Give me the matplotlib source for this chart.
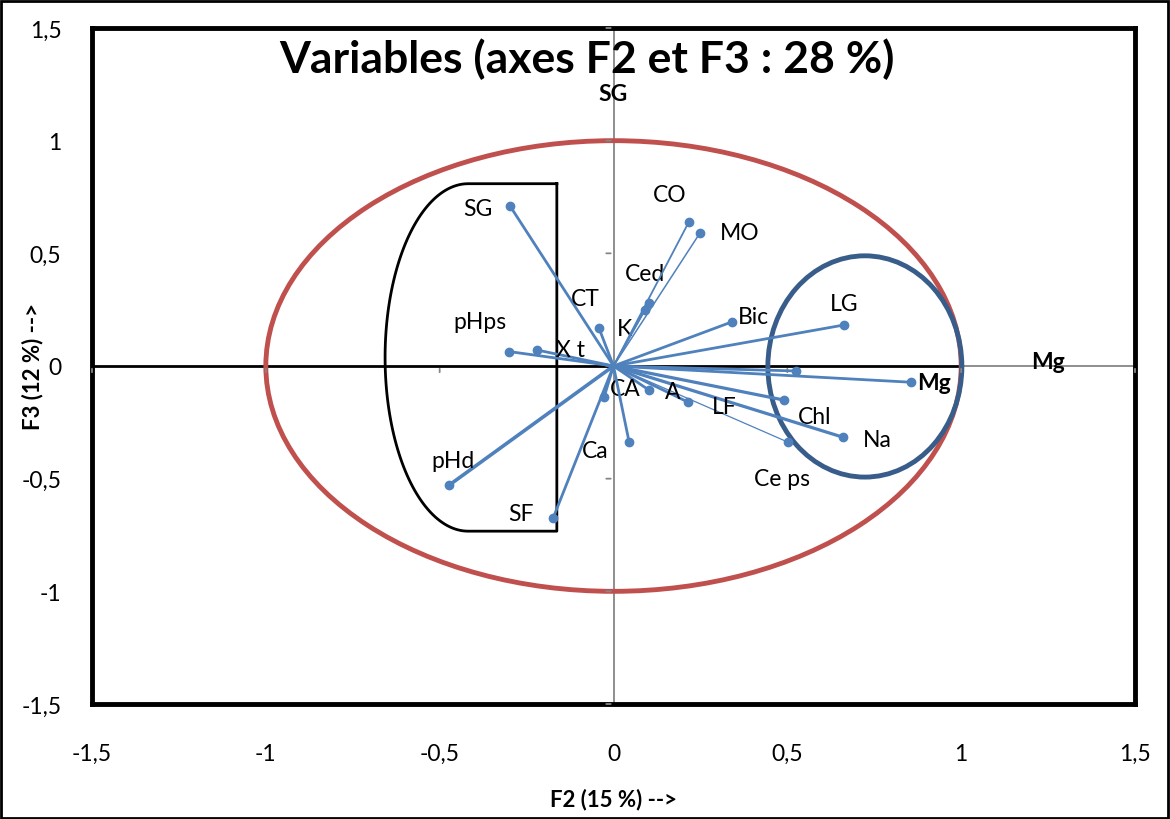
import numpy as np
import matplotlib
matplotlib.use("Agg")
import matplotlib.pyplot as plt
from matplotlib.patches import Ellipse, Rectangle

plt.rcParams['font.family'] = ['Lato', 'DejaVu Sans']

# variable coordinates on F2 / F3
names = ['SG', 'pHps', 'X t', 'CT', 'K', 'Ced', 'CO', 'MO', 'Bic', 'LG', '',
         'Mg', 'Chl', 'Na', 'Ce ps', 'LF', 'A', 'CA', 'Ca', 'SF', 'pHd']
f2 = [-0.298, -0.300, -0.220, -0.042, 0.090, 0.102, 0.217, 0.249, 0.341, 0.663, 0.525,
      0.855, 0.490, 0.660, 0.502, 0.214, 0.102, -0.027, 0.045, -0.174, -0.473]
f3 = [0.711, 0.064, 0.071, 0.169, 0.250, 0.280, 0.640, 0.591, 0.196, 0.182, -0.022,
      -0.072, -0.151, -0.316, -0.338, -0.160, -0.107, -0.138, -0.338, -0.676, -0.529]

# label offsets (pixels) and line widths
offsets = {'SG': (-32, -3), 'pHps': (-29, 30), 'X t': (33, 1), 'CT': (-14, 29),
           'K': (-20, -19), 'Ced': (-4, 29), 'CO': (-19, 27), 'MO': (40, 0),
           'Bic': (21, 5), 'LG': (0, 21), 'Mg': (23, 0), 'Chl': (31, -16),
           'Na': (34, -2), 'Ce ps': (-6, -36), 'LF': (36, -4), 'A': (24, -1),
           'CA': (21, 9), 'Ca': (-34, -8), 'SF': (-32, 5), 'pHd': (4, 25)}
widths = {'CO': 1.3, 'MO': 1.1, 'Ce ps': 0.9, 'pHd': 2.6, 'Chl': 2.3, 'Na': 2.3, 'K': 1.3,
          'Ced': 1.3}

blue = '#4f81bd'

fig = plt.figure(figsize=(11.7, 8.2), dpi=100)
ax = fig.add_axes([92 / 1170, 115 / 820, 1043 / 1170, 676 / 820])
ax.set_xlim(-1.5, 1.5)
ax.set_ylim(-1.5, 1.5)

# axes through origin
ax.axvline(0, color='#868686', lw=1.3, zorder=1)
ax.plot([1.0, 1.5], [0, 0], color='#868686', lw=1.3, zorder=1)
ax.plot([-1.5, 1.0], [0, 0], color='black', lw=2, zorder=1)
for t in np.arange(-1.5, 1.51, 0.5):
    ax.annotate('', xy=(0, t), xytext=(-10, 0), textcoords='offset pixels',
                xycoords='data', arrowprops=dict(arrowstyle='-', color='#868686', lw=1.3))
    ax.annotate('', xy=(t, 0), xytext=(0, -9), textcoords='offset pixels',
                xycoords='data', arrowprops=dict(arrowstyle='-', color='#868686', lw=1.3))

# correlation circle and highlight shapes
ax.add_patch(Ellipse((0, 0), 2, 2, fill=False, color='#c0504d', lw=3.5, zorder=2))
ax.add_patch(Ellipse((0.723, -0.002), 0.558, 0.982, fill=False, color='#385d8a', lw=3.5, zorder=2))
th = np.linspace(np.pi / 2, 3 * np.pi / 2, 100)
cx, cy, rx, ry = -0.418, 0.038, 0.239, 0.771
bx = np.concatenate([[-0.163], cx + rx * np.cos(th), [-0.163, -0.163]])
by = np.concatenate([[cy + ry], cy + ry * np.sin(th), [cy - ry, cy + ry]])
ax.plot(bx, by, color='black', lw=2, zorder=2)

for n, x, y in zip(names, f2, f3):
    ax.plot([0, x], [0, y], color=blue, lw=widths.get(n, 2.0), zorder=3)
    ax.plot(x, y, 'o', color=blue, ms=6, zorder=4)
    if n:
        ax.annotate(n, (x, y), xytext=offsets[n], textcoords='offset pixels',
                    ha='center', va='center', fontsize=16.5,
                    fontweight='bold' if n == 'Mg' else 'normal')

ax.text(0, 1.21, 'SG', ha='center', va='center', fontsize=16.5, fontweight='bold')
ax.text(1.25, 0.02, 'Mg', ha='center', va='center', fontsize=16.5, fontweight='bold')
ax.text(-0.076, 1.365, 'Variables (axes F2 et F3 : 28 %)', ha='center', va='center',
        fontsize=32, fontweight='bold')

ticks = [-1.5, -1, -0.5, 0, 0.5, 1, 1.5]
labels = ['-1,5', '-1', '-0,5', '0', '0,5', '1', '1,5']
ax.set_xticks(ticks)
ax.set_xticklabels(labels)
ax.set_yticks(ticks)
ax.set_yticklabels(labels)
ax.tick_params(length=0, labelsize=16.5)
ax.tick_params(axis='x', pad=28)
ax.tick_params(axis='y', pad=22)
ax.set_xlabel('F2 (15 %) -->', fontsize=16, fontweight='bold', va='center')
ax.set_ylabel('F3 (12 %) -->', fontsize=16, fontweight='bold', va='center')
ax.xaxis.set_label_coords(0.5, -0.1405)
ax.yaxis.set_label_coords(-0.0575, 0.5)
for s in ax.spines.values():
    s.set_linewidth(3.5)

fig.add_artist(Rectangle((0.001, 0.001), 0.997, 0.997, transform=fig.transFigure,
                         fill=False, color='black', lw=2))
fig.savefig('out.png', dpi=100)
